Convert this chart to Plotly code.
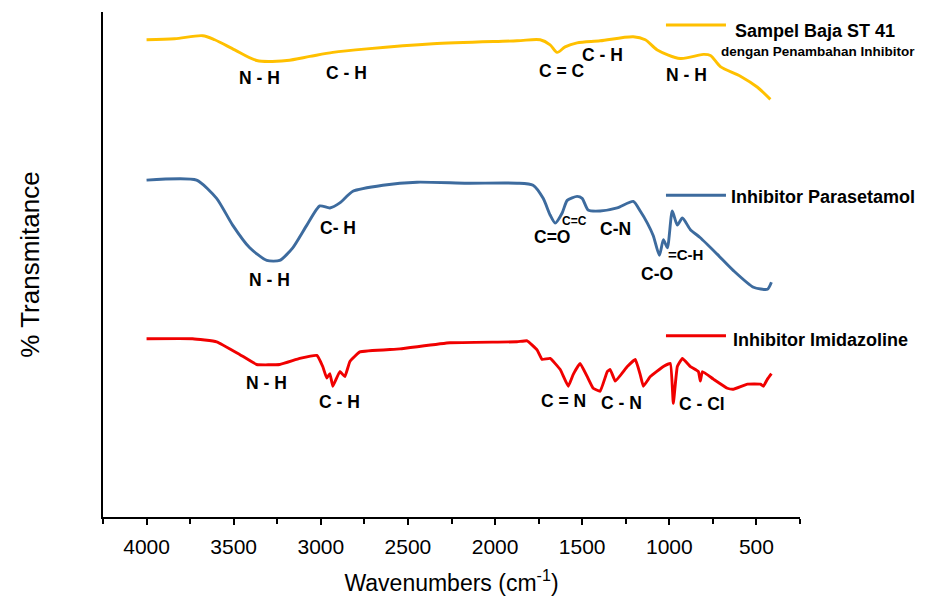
import plotly.graph_objects as go

# ---- data (wavenumber cm-1, relative transmittance) ----
baja_wn = [4000, 3839, 3678, 3609, 3494, 3368, 3195, 3063, 2931, 2736, 2356, 1874, 1741,
           1684, 1644, 1598, 1529, 1397, 1207, 1138, 1069, 937, 805, 764, 707, 592, 494, 420]
baja_t = [94.5, 94.7, 95.3, 94.5, 92.5, 90.4, 90.4, 91.2, 92.0, 92.7, 93.7, 94.3, 94.5,
          93.5, 92.0, 93.1, 93.9, 94.3, 95.1, 94.5, 92.5, 90.8, 91.6, 91.4, 89.2, 87.3, 85.1, 82.7]

para_wn = [4000, 3713, 3598, 3506, 3408, 3310, 3236, 3161, 3080, 3006, 2948, 2891, 2816, 2644,
           2448, 2161, 1874, 1782, 1724, 1684, 1655, 1615, 1586, 1529, 1500, 1466, 1397, 1299,
           1207, 1167, 1126, 1092, 1057, 1034, 1011, 983, 954, 925, 879, 822, 724, 632, 517, 437, 414]
para_t = [66.7, 66.7, 63.1, 57.8, 53.3, 50.8, 50.8, 53.3, 57.8, 61.6, 61.2, 62.2, 64.5, 65.7,
          66.3, 66.1, 66.1, 65.7, 63.1, 59.8, 58.2, 60.2, 62.7, 63.5, 63.1, 60.8, 60.6, 61.2,
          62.5, 60.6, 58.2, 55.7, 51.8, 54.9, 53.3, 60.6, 57.8, 59.2, 56.9, 55.3, 52.0, 48.8, 45.5, 45.1, 46.5]

imid_wn = [4000, 3736, 3598, 3466, 3368, 3236, 3121, 3023, 2989, 2966, 2948, 2931, 2891, 2862,
           2833, 2776, 2546, 2259, 1874, 1816, 1759, 1730, 1684, 1626, 1580, 1552, 1512, 1471,
           1437, 1397, 1356, 1339, 1310, 1241, 1195, 1167, 1149, 1109, 1034, 994, 977, 954, 925,
           879, 833, 822, 810, 747, 667, 632, 552, 477, 460, 437, 414]
imid_t = [35.3, 35.3, 34.7, 32.2, 30.2, 30.2, 31.4, 32.0, 29.8, 27.5, 28.4, 25.9, 28.8, 27.8,
          30.8, 32.7, 33.3, 34.5, 34.7, 34.9, 33.1, 31.2, 31.4, 29.2, 25.9, 28.2, 30.4, 27.8,
          25.5, 24.9, 28.8, 29.2, 26.9, 29.8, 31.2, 28.2, 25.9, 27.8, 29.8, 30.4, 22.5, 29.8, 31.4,
          29.8, 28.8, 26.9, 28.8, 27.3, 25.5, 25.3, 26.3, 26.3, 25.9, 27.3, 28.4]

series_names = ["Sampel Baja ST 41", "Inhibitor Parasetamol", "Inhibitor Imidazoline"]
series_sub = "dengan Penambahan Inhibitor"

# peak labels: (text, wavenumber, transmittance)
baja_labels = [("N - H", 3351, 86.9), ("C - H", 2851, 88.0), ("C = C", 1615, 88.4),
               ("C - H", 1385, 91.4), ("N - H", 902, 87.5)]
para_labels = [("N - H", 3293, 46.9), ("C- H", 2902, 57.3), ("C=O", 1672, 55.5),
               ("C=C", 1546, 58.6), ("C-N", 1310, 57.1), ("C-O", 1069, 48.2), ("=C-H", 908, 52.0)]
imid_labels = [("N - H", 3310, 26.5), ("C - H", 2891, 22.7), ("C = N", 1609, 22.9),
               ("C - N", 1276, 22.5), ("C - Cl", 810, 22.4)]

tick_vals = [4000, 3500, 3000, 2500, 2000, 1500, 1000, 500]
tick_text = ["4000", "3500", "3000", "2500", "2000", "1500", "1000", "500"]

colors = ["#FFC000", "#3D6B9E", "#F00000"]
smooth = [0.8, 0.6, 0.3]
FONT = "Liberation Sans, Arial, sans-serif"

fig = go.Figure()
for wn, t, c, n, s in zip([baja_wn, para_wn, imid_wn], [baja_t, para_t, imid_t], colors, series_names, smooth):
    fig.add_trace(go.Scatter(x=wn, y=t, mode="lines", name=n,
                             line=dict(color=c, width=2.9, shape="spline", smoothing=s),
                             showlegend=False))

annos = []
for group in (baja_labels, para_labels, imid_labels):
    for txt, x, y in group:
        size = 17.5
        if txt == "C=C":
            size = 12
        elif txt == "=C-H":
            size = 15
        annos.append(dict(x=x, y=y, xref="x", yref="y", text="<b>%s</b>" % txt, showarrow=False,
                          font=dict(family=FONT, size=size, color="black")))

# legend-like entries (paper coordinates)
leg = [(0.9745, 0.9627, "<b>%s</b>" % series_names[0], 18, 0.9039),
       (0.6373, 0.6333, "<b>%s</b>" % series_names[1], 18, 0.8981),
       (0.3588, 0.3510, "<b>%s</b>" % series_names[2], 18, 0.9010)]
shapes = []
for (ly, ty, txt, sz, tx), c in zip(leg, colors):
    shapes.append(dict(type="line", xref="paper", yref="paper", x0=0.8077, x1=0.8938, y0=ly, y1=ly,
                       line=dict(color=c, width=3)))
    annos.append(dict(x=tx, y=ty, xref="paper", yref="paper", text=txt, showarrow=False,
                      xanchor="left", yanchor="middle", font=dict(family=FONT, size=sz, color="black")))
annos.append(dict(x=0.8838, y=0.9216, xref="paper", yref="paper", text="<b>%s</b>" % series_sub,
                  showarrow=False, xanchor="left", yanchor="middle",
                  font=dict(family=FONT, size=13.5, color="black")))

fig.update_layout(
    width=919, height=588,
    margin=dict(l=95, r=127, t=4, b=74),
    paper_bgcolor="white", plot_bgcolor="white",
    annotations=annos, shapes=shapes,
    font=dict(family=FONT, color="black"),
    xaxis=dict(range=[4250, 250], tickvals=tick_vals, ticktext=tick_text,
               ticks="outside", ticklen=6, tickwidth=1.5, tickcolor="black", ticklabelstandoff=4,
               minor=dict(dtick=250, tick0=250, ticks="outside", ticklen=5, tickwidth=1.5, tickcolor="black"),
               showline=True, linecolor="black", linewidth=1.5, showgrid=False, zeroline=False,
               tickfont=dict(family=FONT, size=21, color="black"),
               title=dict(text="Wavenumbers (cm<sup>-1</sup>)", font=dict(family=FONT, size=23, color="black"),
                          standoff=18)),
    yaxis=dict(range=[0, 100], showticklabels=False, ticks="", showline=True, linecolor="black",
               linewidth=1.5, showgrid=False, zeroline=False,
               title=dict(text="% Transmitance", font=dict(family=FONT, size=26, color="black"),
                          standoff=54)),
)

fig.write_html("out.html")
